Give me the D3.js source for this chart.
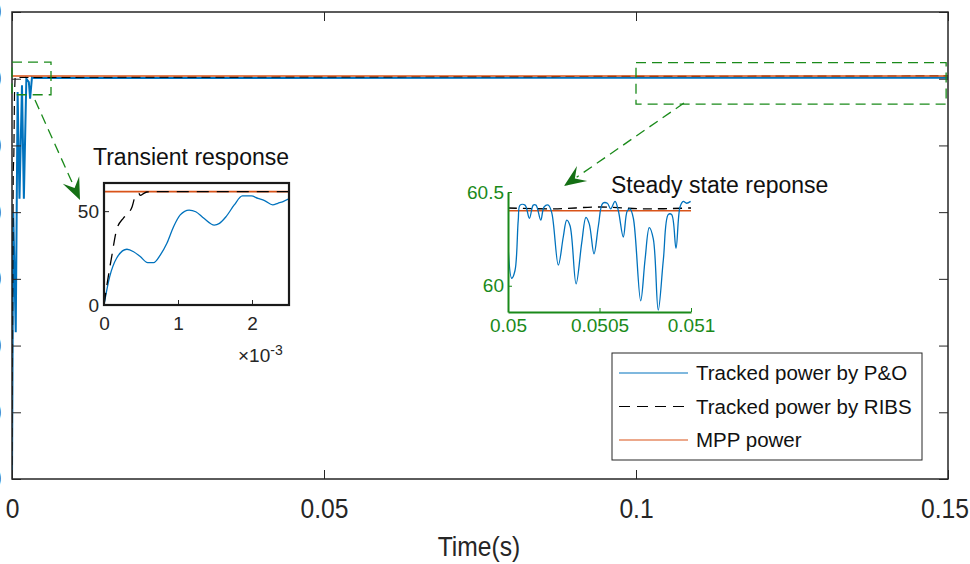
<!DOCTYPE html>
<html lang="en">
    <head>
        <meta charset="utf-8">
        <title>Tracked power P&amp;O vs RIBS</title>
        <script src="https://d3js.org/d3.v7.min.js"></script>
        <style type="text/css">
            body{
                margin:0;
                background:#fff;
            }
            svg{
                width:970px;
                height:564px;
                display:block;
                font-family:"Liberation Sans", Arial, sans-serif;
            }
        </style>
    </head>
    <body>
        <svg></svg>
        <script type="text/javascript">

            // main axes ticks
            const mainTicksX = [0, 0.05, 0.1, 0.15];
            const mainTicksY = [0, 10, 20, 30, 40, 50, 60, 70];
            const mppPower = 60.4;

            // full run, time in s
            const poTime  = [0, 0.0002, 0.0006, 0.0009, 0.0012, 0.0016, 0.0019, 0.0023, 0.0027, 0.0029, 0.0032, 0.0035, 0.15];
            const poPower = [0, 40, 22, 58, 42, 59, 42, 60, 59.5, 57, 60.2, 60.1, 60.15];
            const ribsTime  = [0, 0.0001, 0.0002, 0.0003, 0.0004, 0.0005, 0.15];
            const ribsPower = [0, 25.8, 46, 48.8, 57.7, 60.2, 60.42];

            // transient window, time in ms
            const transTicksX = [0, 1, 2];
            const transTicksY = [0, 50];
            const poTransTime  = [0, 0.077, 0.17, 0.31, 0.40, 0.49, 0.59, 0.67, 0.76, 0.85, 0.94, 1.03, 1.15, 1.24, 1.35, 1.49, 1.56, 1.65, 1.76, 1.87, 1.99, 2.08, 2.17, 2.28, 2.35, 2.42, 2.51];
            const poTransPower = [0, 15.1, 24.9, 29.7, 28.4, 25.8, 22.6, 22.6, 26.6, 32.9, 41.7, 48.0, 50.6, 49.7, 46.2, 42.6, 43.5, 47.1, 53.3, 58.1, 58.1, 56.8, 55.6, 53.3, 54.2, 55.1, 56.8];
            const ribsTransTime  = [0, 0.036, 0.104, 0.17, 0.26, 0.33, 0.38, 0.42, 0.47, 0.49, 0.54, 0.58, 0.7, 2.5];
            const ribsTransPower = [0, 9.8, 25.8, 40, 46.2, 48.8, 52.4, 57.7, 59.5, 58.4, 59.5, 60.2, 60.4, 60.4];

            // steady state window, time in s
            const steadyTicksX = [0.05, 0.0505, 0.051];
            const steadyTicksY = [60, 60.5];
            const poSteadyTime = [0.0500016, 0.05002, 0.050038, 0.050056, 0.050066, 0.050093, 0.050117, 0.050138, 0.050153, 0.050179,
                                  0.050197, 0.05022, 0.050239, 0.050275, 0.050302, 0.050321, 0.050339, 0.050372, 0.050403, 0.050426,
                                  0.050444, 0.05047, 0.050494, 0.050518, 0.050543, 0.050561, 0.050585, 0.050603, 0.05063, 0.050652,
                                  0.050667, 0.050685, 0.050725, 0.050749, 0.050772, 0.050794, 0.050821, 0.050849, 0.050876, 0.050894,
                                  0.050918, 0.05094, 0.050958, 0.050976, 0.050998];
            const poSteadyPower = [60.19, 60.04, 60.08, 60.35, 60.43, 60.43, 60.36, 60.43, 60.43, 60.35,
                                   60.42, 60.43, 60.39, 60.11, 60.26, 60.35, 60.32, 60.01, 60.23, 60.365,
                                   60.33, 60.17, 60.32, 60.44, 60.44, 60.41, 60.45, 60.40, 60.26, 60.40,
                                   60.41, 60.36, 59.92, 60.14, 60.31, 60.25, 59.87, 60.14, 60.38, 60.38,
                                   60.2, 60.42, 60.45, 60.44, 60.45];
            const ribsSteadyTime  = [0.05, 0.05025, 0.0505, 0.05075, 0.051];
            const ribsSteadyPower = [60.415, 60.41, 60.42, 60.41, 60.415];

            const legendLabels = ["Tracked power by P&O", "Tracked power by RIBS", "MPP power"];

            const blue = "#0072BD", orange = "#D95319", black = "#000", axisColor = "#262626", green = "#1a8a1a";
            const narrow = "scale(0.88,1)";

            const svg = d3.select("svg");
            const toPts = (ts, vs) => ts.map((t, i) => [t, vs[i]]);

            // ---------- main axes ----------
            const x = d3.scaleLinear().domain([0, 0.15]).range([12, 948]);
            const y = d3.scaleLinear().domain([0, 70]).range([479, 12]);

            svg.append("clipPath").attr("id", "mainClip")
                .append("rect").attr("x", 12).attr("y", 12).attr("width", 936).attr("height", 467);

            const mainLine = d3.line().x(d => x(d[0])).y(d => y(d[1]));
            const plot = svg.append("g").attr("clip-path", "url(#mainClip)");

            plot.append("path").attr("d", mainLine(toPts(poTime, poPower)))
                .attr("fill", "none").attr("stroke", blue).attr("stroke-width", 2);
            plot.append("path").attr("d", mainLine(toPts(ribsTime, ribsPower)))
                .attr("fill", "none").attr("stroke", black).attr("stroke-width", 1.2)
                .attr("stroke-dasharray", "9,5");
            plot.append("path").attr("d", mainLine([[0, mppPower], [0.15, mppPower]]))
                .attr("fill", "none").attr("stroke", orange).attr("stroke-width", 1.4);

            const styleAxis = g => {
                g.select(".domain").remove();
                g.selectAll("line").attr("stroke", axisColor);
                g.selectAll("text").attr("fill", axisColor);
            };

            svg.append("g").attr("transform", "translate(0,479)")
                .call(d3.axisBottom(x).tickValues(mainTicksX).tickSize(-9).tickPadding(19).tickFormat(d => d))
                .call(styleAxis)
                .selectAll("text").attr("font-size", 28).attr("font-family", null).attr("transform", narrow)
                .attr("dx", d => d === 0.15 ? -4 : 0);
            svg.append("g").attr("transform", "translate(0,12)")
                .call(d3.axisTop(x).tickValues(mainTicksX).tickSize(-9).tickFormat(""))
                .call(styleAxis);
            svg.append("g").attr("transform", "translate(12,0)")
                .call(d3.axisLeft(y).tickValues(mainTicksY).tickSize(-9).tickPadding(12))
                .call(styleAxis)
                .selectAll("text").attr("font-size", 28).attr("font-family", null).attr("transform", narrow);
            svg.append("g").attr("transform", "translate(948,0)")
                .call(d3.axisRight(y).tickValues(mainTicksY).tickSize(-9).tickFormat(""))
                .call(styleAxis);

            svg.append("rect").attr("x", 12).attr("y", 12).attr("width", 936).attr("height", 467)
                .attr("fill", "none").attr("stroke", axisColor).attr("stroke-width", 1.5);

            svg.append("g").attr("transform", "translate(479,556) " + narrow)
                .append("text").attr("text-anchor", "middle").attr("font-size", 28).attr("fill", axisColor)
                .text("Time(s)");

            // zoom boxes
            const zoomBoxes = [
                {t0: 0, t1: 0.00625, p0: 57.6, p1: 62.5},
                {t0: 0.1, t1: 0.1497, p0: 56.2, p1: 62.4}
            ];
            svg.selectAll("rect.zoombox").data(zoomBoxes).join("rect").attr("class", "zoombox")
                .attr("x", d => x(d.t0)).attr("y", d => y(d.p1))
                .attr("width", d => x(d.t1) - x(d.t0)).attr("height", d => y(d.p0) - y(d.p1))
                .attr("fill", "none").attr("stroke", green).attr("stroke-width", 1.3)
                .attr("stroke-dasharray", "10,6");

            // arrows to the insets
            function arrow(x1, y1, x2, y2) {
                const len = Math.hypot(x2 - x1, y2 - y1);
                const ux = (x2 - x1) / len, uy = (y2 - y1) / len;
                const px = -uy, py = ux;
                const hl = 22, hw = 9;
                svg.append("line").attr("x1", x1).attr("y1", y1)
                    .attr("x2", x2 - ux * hl * 0.7).attr("y2", y2 - uy * hl * 0.7)
                    .attr("stroke", green).attr("stroke-width", 1.3).attr("stroke-dasharray", "10,6");
                const bx = x2 - ux * hl, by = y2 - uy * hl;
                const nx = x2 - ux * hl * 0.6, ny = y2 - uy * hl * 0.6;
                svg.append("path")
                    .attr("d", `M${x2},${y2}L${bx + px * hw},${by + py * hw}L${nx},${ny}L${bx - px * hw},${by - py * hw}Z`)
                    .attr("fill", "#157015");
            }
            arrow(35, 100, 80, 200);
            arrow(684, 103, 564, 186);

            // ---------- transient inset ----------
            const tx = d3.scaleLinear().domain([0, 2.5]).range([104, 289]);
            const ty = d3.scaleLinear().domain([0, 65]).range([305, 183]);
            const tLine = d3.line().x(d => tx(d[0])).y(d => ty(d[1])).curve(d3.curveMonotoneX);

            svg.append("clipPath").attr("id", "transClip")
                .append("rect").attr("x", 104).attr("y", 183).attr("width", 185).attr("height", 122);
            const tp = svg.append("g").attr("clip-path", "url(#transClip)");
            tp.append("path").attr("d", tLine(toPts(poTransTime, poTransPower)))
                .attr("fill", "none").attr("stroke", blue).attr("stroke-width", 1.3);
            tp.append("path").attr("d", tLine([[0, mppPower], [2.5, mppPower]]))
                .attr("fill", "none").attr("stroke", orange).attr("stroke-width", 1.6);
            tp.append("path").attr("d", tLine(toPts(ribsTransTime, ribsTransPower)))
                .attr("fill", "none").attr("stroke", black).attr("stroke-width", 1.3)
                .attr("stroke-dasharray", "12,8");

            svg.append("g").attr("transform", "translate(0,305)")
                .call(d3.axisBottom(tx).tickValues(transTicksX).tickSize(-5).tickPadding(12).tickFormat(d => d))
                .call(styleAxis)
                .selectAll("text").attr("font-size", 19).attr("font-family", null);
            svg.append("g").attr("transform", "translate(104,0)")
                .call(d3.axisLeft(ty).tickValues(transTicksY).tickSize(-5).tickPadding(5))
                .call(styleAxis)
                .selectAll("text").attr("font-size", 19).attr("font-family", null);
            svg.append("rect").attr("x", 104).attr("y", 183).attr("width", 185).attr("height", 122)
                .attr("fill", "none").attr("stroke", "#1a1a1a").attr("stroke-width", 2.2);

            svg.append("text").attr("x", 191).attr("y", 165).attr("text-anchor", "middle")
                .attr("font-size", 23).attr("fill", "#111").text("Transient response");
            const mult = svg.append("text").attr("x", 238).attr("y", 362).attr("font-size", 19).attr("fill", axisColor);
            mult.append("tspan").text("\u00d710");
            mult.append("tspan").attr("dy", -7).attr("font-size", 14).text("-3");

            // ---------- steady state inset ----------
            const sx = d3.scaleLinear().domain([0.05, 0.051]).range([508, 691]);
            const sy = d3.scaleLinear().domain([59.86, 60.5]).range([312, 192]);
            const sLine = d3.line().x(d => sx(d[0])).y(d => sy(d[1])).curve(d3.curveCatmullRom);

            svg.append("clipPath").attr("id", "steadyClip")
                .append("rect").attr("x", 508).attr("y", 186).attr("width", 183).attr("height", 126);
            const sp = svg.append("g").attr("clip-path", "url(#steadyClip)");
            sp.append("path").attr("d", sLine([[0.05, mppPower], [0.051, mppPower]]))
                .attr("fill", "none").attr("stroke", orange).attr("stroke-width", 1.5);
            sp.append("path").attr("d", sLine(toPts(ribsSteadyTime, ribsSteadyPower)))
                .attr("fill", "none").attr("stroke", black).attr("stroke-width", 1.4)
                .attr("stroke-dasharray", "9,6");
            sp.append("path").attr("d", sLine(toPts(poSteadyTime, poSteadyPower)))
                .attr("fill", "none").attr("stroke", blue).attr("stroke-width", 1.3);

            const greenAxis = g => {
                g.select(".domain").attr("stroke", green).attr("stroke-width", 2);
                g.selectAll("line").attr("stroke", green);
                g.selectAll("text").attr("fill", green).attr("font-size", 19).attr("font-family", null);
            };
            svg.append("g").attr("transform", "translate(0,312)")
                .call(d3.axisBottom(sx).tickValues(steadyTicksX).tickSize(-4).tickSizeOuter(0).tickPadding(7).tickFormat(d => d))
                .call(greenAxis);
            svg.append("g").attr("transform", "translate(508,0)")
                .call(d3.axisLeft(sy).tickValues(steadyTicksY).tickSize(-4).tickSizeOuter(0).tickPadding(4).tickFormat(d => d))
                .call(greenAxis);

            svg.append("text").attr("x", 611).attr("y", 193)
                .attr("font-size", 23).attr("fill", "#111").text("Steady state reponse");

            // ---------- legend ----------
            const legend = svg.append("g").attr("transform", "translate(612,353)");
            legend.append("rect").attr("width", 310).attr("height", 107)
                .attr("fill", "#fff").attr("stroke", axisColor).attr("stroke-width", 1);
            const legendStyles = [
                {stroke: blue, dash: null},
                {stroke: black, dash: "11,7"},
                {stroke: orange, dash: null}
            ];
            const rows = legend.selectAll("g").data(legendLabels).join("g")
                .attr("transform", (d, i) => `translate(0,${20 + i * 33.5})`);
            rows.append("line").attr("x1", 7).attr("x2", 76)
                .attr("stroke", (d, i) => legendStyles[i].stroke)
                .attr("stroke-dasharray", (d, i) => legendStyles[i].dash)
                .attr("stroke-width", 1.2);
            rows.append("text").attr("x", 84).attr("dy", "0.36em")
                .attr("font-size", 20.5).attr("fill", "#111").text(d => d);

        </script>
    </body>
</html>
